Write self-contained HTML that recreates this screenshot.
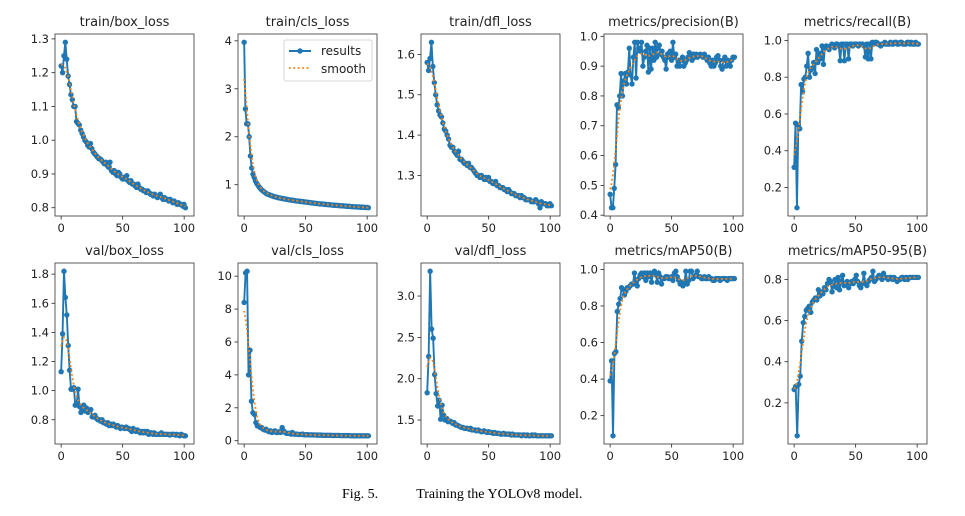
<!DOCTYPE html>
<html><head><meta charset="utf-8"><style>
body{margin:0;background:#fff;width:965px;height:511px;overflow:hidden}
svg text{font-family:"DejaVu Sans","Liberation Sans",sans-serif;fill:#222}
</style></head><body>
<svg id="fig" width="965" height="511" viewBox="0 0 965 511" xmlns="http://www.w3.org/2000/svg">
<text x="342" y="498" style="font-family:'Liberation Serif',serif;font-size:14px;fill:#000">Fig. 5.<tspan dx="38">Training the YOLOv8 model.</tspan></text>
</svg>
<script>
const titles=["train/box_loss","train/cls_loss","train/dfl_loss","metrics/precision(B)","metrics/recall(B)","val/box_loss","val/cls_loss","val/dfl_loss","metrics/mAP50(B)","metrics/mAP50-95(B)"];
const xTicks=[0,50,100];
const yTicks0=[0.8,0.9,1.0,1.1,1.2,1.3];
const yTicks1=[1,2,3,4];
const yTicks2=[1.3,1.4,1.5,1.6];
const yTicks3=[0.4,0.5,0.6,0.7,0.8,0.9,1.0];
const yTicks4=[0.2,0.4,0.6,0.8,1.0];
const yTicks5=[0.8,1.0,1.2,1.4,1.6,1.8];
const yTicks6=[0,2,4,6,8,10];
const yTicks7=[1.5,2.0,2.5,3.0];
const yTicks8=[0.2,0.4,0.6,0.8,1.0];
const yTicks9=[0.2,0.4,0.6,0.8];
const trainBox=[1.22,1.20,1.25,1.29,1.24,1.19,1.165,1.135,1.12,1.10,1.10,1.055,1.05,1.045,1.03,1.02,1.01,1.00,0.995,0.985,0.98,0.99,0.975,0.965,0.96,0.955,0.95,0.945,0.945,0.94,0.935,0.93,0.935,0.925,0.92,0.935,0.91,0.905,0.91,0.90,0.895,0.905,0.90,0.89,0.885,0.89,0.885,0.895,0.88,0.875,0.88,0.87,0.87,0.865,0.86,0.87,0.86,0.855,0.855,0.85,0.85,0.845,0.85,0.845,0.84,0.84,0.835,0.84,0.835,0.83,0.835,0.84,0.83,0.825,0.83,0.825,0.825,0.82,0.825,0.82,0.815,0.82,0.815,0.81,0.815,0.81,0.81,0.805,0.81,0.80];
const trainCls=[3.97,2.58,2.27,2.27,2.0,1.6,1.35,1.22,1.15,1.08,1.03,0.99,0.95,0.92,0.89,0.87,0.85,0.83,0.81,0.80,0.79,0.78,0.77,0.76,0.75,0.745,0.74,0.73,0.725,0.72,0.715,0.71,0.705,0.70,0.695,0.69,0.685,0.68,0.68,0.675,0.67,0.665,0.66,0.66,0.655,0.65,0.65,0.645,0.64,0.64,0.635,0.63,0.63,0.625,0.62,0.62,0.615,0.61,0.61,0.605,0.60,0.60,0.60,0.595,0.59,0.59,0.585,0.585,0.58,0.58,0.575,0.575,0.57,0.57,0.57,0.565,0.565,0.56,0.56,0.56,0.555,0.555,0.55,0.55,0.55,0.545,0.545,0.54,0.54,0.54,0.535,0.535,0.535,0.53,0.53,0.53,0.525,0.525,0.525,0.52];
const trainDfl=[1.58,1.56,1.59,1.63,1.57,1.53,1.50,1.475,1.46,1.45,1.445,1.43,1.415,1.41,1.40,1.39,1.375,1.37,1.37,1.36,1.355,1.35,1.36,1.34,1.34,1.335,1.33,1.33,1.325,1.33,1.32,1.32,1.315,1.31,1.305,1.30,1.30,1.295,1.30,1.295,1.29,1.295,1.29,1.295,1.285,1.285,1.28,1.28,1.285,1.275,1.275,1.27,1.27,1.27,1.265,1.265,1.26,1.265,1.26,1.255,1.255,1.255,1.25,1.25,1.25,1.245,1.25,1.245,1.245,1.24,1.24,1.24,1.24,1.235,1.235,1.235,1.24,1.235,1.23,1.22,1.235,1.23,1.23,1.23,1.225,1.225,1.23,1.225];
const precision=[0.47,0.425,0.425,0.49,0.57,0.77,0.76,0.80,0.875,0.80,0.85,0.875,0.84,0.88,0.96,0.87,0.84,0.93,0.98,0.86,0.98,0.96,0.95,0.98,0.90,0.93,0.95,0.97,0.88,0.96,0.89,0.96,0.92,0.98,0.93,0.96,0.97,0.94,0.95,0.93,0.92,0.89,0.94,0.93,0.95,0.92,0.98,0.93,0.94,0.90,0.92,0.90,0.92,0.93,0.90,0.91,0.92,0.93,0.945,0.93,0.92,0.94,0.93,0.94,0.93,0.935,0.94,0.935,0.93,0.94,0.93,0.92,0.93,0.91,0.90,0.92,0.90,0.91,0.93,0.935,0.92,0.90,0.89,0.92,0.93,0.90,0.92,0.91,0.90,0.92,0.93,0.93];
const recall=[0.31,0.55,0.09,0.54,0.52,0.76,0.72,0.79,0.80,0.86,0.93,0.80,0.84,0.85,0.88,0.82,0.95,0.88,0.93,0.90,0.97,0.87,0.96,0.97,0.96,0.95,0.97,0.98,0.97,0.96,0.98,0.98,0.97,0.89,0.98,0.98,0.89,0.98,0.98,0.90,0.98,0.98,0.97,0.98,0.98,0.98,0.97,0.98,0.98,0.98,0.97,0.91,0.98,0.90,0.98,0.90,0.99,0.98,0.99,0.99,0.98,0.98,0.97,0.98,0.98,0.99,0.98,0.98,0.98,0.99,0.98,0.98,0.99,0.99,0.98,0.98,0.99,0.99,0.98,0.98,0.98,0.99,0.99,0.98,0.99,0.98,0.98,0.99,0.98,0.98];
const valBox=[1.13,1.39,1.82,1.64,1.52,1.31,1.14,1.01,1.01,1.02,0.90,0.91,1.01,0.89,0.85,0.87,0.90,0.86,0.88,0.85,0.86,0.87,0.82,0.82,0.83,0.81,0.80,0.80,0.79,0.80,0.78,0.78,0.77,0.78,0.76,0.77,0.76,0.77,0.76,0.75,0.76,0.75,0.74,0.75,0.745,0.74,0.75,0.74,0.74,0.73,0.72,0.74,0.73,0.72,0.73,0.72,0.71,0.72,0.71,0.72,0.71,0.72,0.70,0.71,0.71,0.70,0.71,0.70,0.70,0.70,0.70,0.71,0.70,0.70,0.70,0.70,0.70,0.695,0.70,0.70,0.70,0.695,0.70,0.695,0.69,0.70,0.695,0.69,0.69];
const valCls=[8.4,10.2,10.3,4.0,5.5,2.4,1.7,1.6,1.1,0.9,0.9,0.8,0.8,0.7,0.65,0.7,0.6,0.55,0.6,0.5,0.55,0.6,0.5,0.5,0.55,0.5,0.8,0.6,0.5,0.45,0.45,0.45,0.4,0.5,0.4,0.4,0.4,0.38,0.38,0.38,0.4,0.36,0.36,0.37,0.36,0.35,0.36,0.35,0.35,0.35,0.34,0.34,0.34,0.34,0.33,0.33,0.33,0.33,0.33,0.33,0.32,0.32,0.32,0.32,0.32,0.32,0.31,0.31,0.31,0.31,0.31,0.31,0.31,0.30,0.30,0.30,0.30,0.30,0.30,0.30,0.30,0.30,0.30,0.30,0.30,0.30];
const valDfl=[1.83,2.27,3.30,2.60,2.49,2.05,1.82,1.67,1.74,1.51,1.68,1.56,1.50,1.52,1.48,1.49,1.48,1.46,1.47,1.44,1.44,1.43,1.42,1.41,1.41,1.40,1.40,1.40,1.39,1.40,1.38,1.38,1.38,1.37,1.38,1.37,1.36,1.36,1.37,1.36,1.35,1.36,1.35,1.35,1.34,1.35,1.34,1.34,1.34,1.33,1.33,1.34,1.33,1.33,1.33,1.33,1.32,1.33,1.32,1.32,1.32,1.32,1.32,1.31,1.32,1.32,1.31,1.32,1.31,1.31,1.32,1.31,1.32,1.31,1.31,1.31,1.31,1.31,1.31,1.31,1.31,1.31,1.31,1.31];
const mAP50=[0.39,0.5,0.09,0.54,0.55,0.77,0.81,0.84,0.90,0.89,0.86,0.88,0.90,0.90,0.91,0.92,0.92,0.98,0.93,0.91,0.95,0.97,0.98,0.96,0.98,0.94,0.98,0.96,0.98,0.93,0.98,0.99,0.97,0.93,0.98,0.96,0.92,0.95,0.95,0.96,0.96,0.95,0.95,0.96,0.94,0.98,0.99,0.96,0.94,0.92,0.93,0.91,0.93,0.99,0.92,0.94,0.99,0.99,0.95,0.96,0.97,0.99,0.96,0.96,0.95,0.95,0.96,0.95,0.95,0.96,0.95,0.95,0.94,0.94,0.95,0.95,0.95,0.94,0.95,0.95,0.95,0.95,0.94,0.95,0.95,0.95,0.95,0.95];
const mAP5095=[0.265,0.28,0.04,0.29,0.33,0.50,0.59,0.62,0.65,0.66,0.67,0.64,0.69,0.70,0.71,0.70,0.75,0.72,0.74,0.73,0.76,0.75,0.78,0.80,0.79,0.74,0.77,0.80,0.76,0.81,0.75,0.79,0.82,0.77,0.78,0.79,0.76,0.78,0.79,0.78,0.80,0.82,0.79,0.77,0.76,0.78,0.83,0.78,0.77,0.79,0.80,0.81,0.84,0.79,0.80,0.81,0.82,0.81,0.80,0.83,0.81,0.81,0.80,0.81,0.81,0.80,0.81,0.80,0.79,0.80,0.80,0.81,0.81,0.80,0.81,0.80,0.81,0.81,0.81,0.81,0.81,0.81,0.81];
const series=[trainBox,trainCls,trainDfl,precision,recall,valBox,valCls,valDfl,mAP50,mAP5095];
const yTickSets=[yTicks0,yTicks1,yTicks2,yTicks3,yTicks4,yTicks5,yTicks6,yTicks7,yTicks8,yTicks9];
const lastEpoch=101;
const NS="http://www.w3.org/2000/svg";
const svg=document.getElementById('fig');
function mk(t,a,p){const e=document.createElementNS(NS,t);for(const k in a)e.setAttribute(k,a[k]);(p||svg).appendChild(e);return e;}
function smooth(y,s){const n=y.length,r=Math.ceil(4*s),out=[];for(let i=0;i<n;i++){let sw=0,sv=0;for(let k=-r;k<=r;k++){const j=Math.min(n-1,Math.max(0,i+k));const w=Math.exp(-k*k/(2*s*s));sw+=w;sv+=w*y[j];}out.push(sv/sw);}return out;}
function fmt(v,t){const dec=t.some(x=>Math.abs(x-Math.round(x))>1e-9)?1:0;return v.toFixed(dec);}
const cols=[55,238,421,604,788],rows=[[34,216],[263,444]],W=139;
series.forEach((ys,p)=>{
 const g=mk('g',{});
 
 
 const L=cols[p%5],T=rows[Math.floor(p/5)][0],B=rows[Math.floor(p/5)][1];
 const xs=ys.map((_,i)=>i*lastEpoch/(ys.length-1));
 const sm=smooth(ys,3);
 const mn=Math.min(...ys,...sm),mxv=Math.max(...ys,...sm),m=(mxv-mn)*0.05;
 const y0=mn-m,y1=mxv+m;
 const X=v=>L+(v+5)/113*W, Y=v=>B-(v-y0)/(y1-y0)*(B-T);
 const t=mk('text',{x:L+W/2,y:T-8,'text-anchor':'middle','font-size':'13'},g);t.textContent=titles[p];
 
 
 xTicks.forEach(v=>{mk('line',{x1:X(v),x2:X(v),y1:B,y2:B+3.5,stroke:'#222','stroke-width':0.8},g);const tt=mk('text',{x:X(v),y:B+16,'text-anchor':'middle','font-size':'11.5'},g);tt.textContent=v;
  
  });
 const yt=yTickSets[p];
 yt.forEach(v=>{const yy=Y(v);mk('line',{x1:L-3.5,x2:L,y1:yy,y2:yy,stroke:'#222','stroke-width':0.8},g);const tt=mk('text',{x:L-6,y:yy+4,'text-anchor':'end','font-size':'11.5'},g);tt.textContent=fmt(v,yt);
  
  });
 const pl=mk('polyline',{points:xs.map((x,i)=>X(x)+','+Y(ys[i])).join(' '),fill:'none',stroke:'#1f77b4','stroke-width':1.9},g);
 
 
 ys.forEach((v,i)=>{const c=mk('circle',{cx:X(xs[i]),cy:Y(v),r:2.7,fill:'#1f77b4'},g);
  
  });
 const sl=mk('polyline',{points:xs.map((x,i)=>X(x)+','+Y(sm[i])).join(' '),fill:'none',stroke:'#ff7f0e','stroke-width':1.8,'stroke-dasharray':'1.8 2.6'},g);
 
 
 const fr=mk('rect',{x:L,y:T,width:W,height:B-T,fill:'none',stroke:'#333','stroke-width':0.8},g);
 
 
 if(p===1){
  const lg=mk('g',{},g);
  
  
  mk('rect',{x:284,y:40,width:88,height:41,rx:2,fill:'#fff',stroke:'#ccc','stroke-width':0.8},lg);
  mk('line',{x1:289,x2:311,y1:51,y2:51,stroke:'#1f77b4','stroke-width':1.9},lg);
  mk('circle',{cx:300,cy:51,r:2.7,fill:'#1f77b4'},lg);
  const a=mk('text',{x:321,y:55,'font-size':'12'},lg);a.textContent='results';
  
  
  mk('line',{x1:289,x2:311,y1:68,y2:68,stroke:'#ff7f0e','stroke-width':1.8,'stroke-dasharray':'1.8 2.6'},lg);
  const b=mk('text',{x:321,y:73,'font-size':'12'},lg);b.textContent='smooth';
  
  
 }
});
</script>
</body></html>
